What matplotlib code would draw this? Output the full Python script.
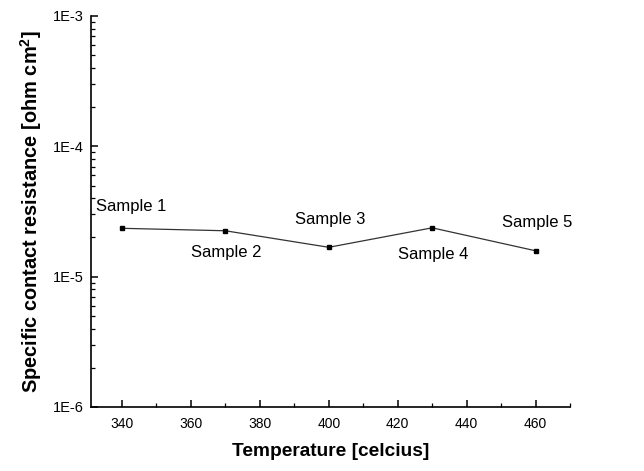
import matplotlib
matplotlib.use("Agg")
import matplotlib.pyplot as plt
from matplotlib.ticker import MultipleLocator, FuncFormatter, LogLocator, NullFormatter
import numpy as np

plt.rcParams['font.family'] = ['Liberation Sans', 'DejaVu Sans']
plt.rcParams['mathtext.fontset'] = 'custom'
plt.rcParams['mathtext.rm'] = 'Liberation Sans:bold'
plt.rcParams['mathtext.bf'] = 'Liberation Sans:bold'

temperature = [340, 370, 400, 430, 460]
resistance = [2.35e-5, 2.25e-5, 1.68e-5, 2.37e-5, 1.58e-5]
sample_labels = ["Sample 1", "Sample 2", "Sample 3", "Sample 4", "Sample 5"]
label_offsets_px = [(9, 22), (1, -22), (1, 28), (1, -27), (2, 28)]

fig = plt.figure(figsize=(6.44, 4.71), dpi=100)
ax = fig.add_axes([91/644, 1-407/471, (570-91)/644, (407-16)/471])

ax.plot(temperature, resistance, color='#333333', lw=0.9, marker='s', ms=2.2,
        mfc='black', mec='black')
for x, y, lab, off in zip(temperature, resistance, sample_labels, label_offsets_px):
    ax.annotate(lab, (x, y), xytext=off, textcoords='offset pixels',
                ha='center', va='center', fontsize=12)

ax.set_yscale('log')
ax.set_ylim(1e-6, 1e-3)
ax.set_xlim(331, 470)
ax.xaxis.set_major_locator(MultipleLocator(20))
ax.xaxis.set_minor_locator(MultipleLocator(10))
ax.yaxis.set_major_locator(LogLocator(base=10, numticks=10))
ax.yaxis.set_minor_locator(LogLocator(base=10, subs=np.arange(2, 10), numticks=20))
ax.yaxis.set_minor_formatter(NullFormatter())
ax.yaxis.set_major_formatter(FuncFormatter(lambda v, p: "1E%d" % int(round(np.log10(v)))))

for s in ['top', 'right']:
    ax.spines[s].set_visible(False)
for s in ['left', 'bottom']:
    ax.spines[s].set_linewidth(1.2)
ax.tick_params(which='major', direction='in', length=5, width=1.1)
ax.tick_params(which='minor', direction='in', length=3, width=0.9)
ax.tick_params(axis='x', which='major', labelsize=10, pad=7)
ax.tick_params(axis='y', which='major', labelsize=10.5, pad=5.5)

ax.set_xlabel("Temperature [celcius]", fontsize=13.8, fontweight='bold', labelpad=9)
ax.set_ylabel(r"Specific contact resistance [ohm cm$^{\mathbf{2}}$]", fontsize=14.4,
              fontweight='bold', labelpad=6)

fig.savefig("out.png", dpi=100)
